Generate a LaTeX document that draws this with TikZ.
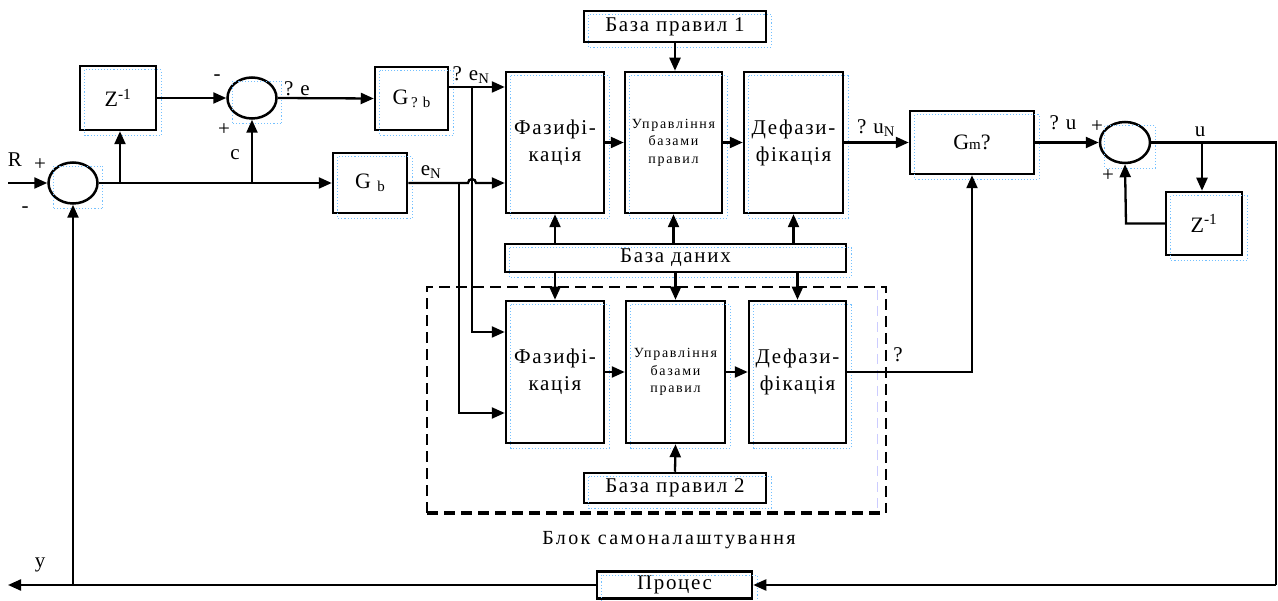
\documentclass[tikz,border=0pt]{standalone}
\usepackage{fontspec}
\setmainfont{Liberation Serif}
\newfontfamily\spc[LetterSpace=8]{Liberation Serif}
\newfontfamily\spcs[LetterSpace=12]{Liberation Serif}
\usetikzlibrary{arrows.meta,shapes.geometric,calc}
\begin{document}
\begin{tikzpicture}[x=1pt,y=-1pt,
  box/.style={draw, line width=2.5pt, inner sep=0pt, align=center,
    font=\fontsize{21}{27}\selectfont\spc},
  smallbox/.style={box, font=\fontsize{14}{17.5}\selectfont\spcs},
  sumn/.style={draw, ellipse, line width=2.5pt, inner sep=0pt,
    minimum width=49pt, minimum height=41pt},
  conn/.style={line width=2.3pt},
  arr/.style={conn, -{Triangle[length=13pt,width=11pt]}},
  lab/.style={font=\fontsize{21}{24}\selectfont, inner sep=0pt},
  shad/.style={draw=blue!45!cyan!55, dotted, line width=1.1pt},
  frame/.style={dash pattern=on 11pt off 6pt, line width=1.5pt}
]
\useasboundingbox (0,0) rectangle (1278,601);

% ---- nodes ----
\node[box, minimum width=76pt, minimum height=64pt, font=\fontsize{22}{24}\selectfont] (z1) at (118,98) {Z\textsuperscript{-1}};
\node[sumn] (sum1) at (73,183) {};
\node[sumn] (sum2) at (252,98) {};
\node[box, minimum width=73pt, minimum height=63pt, font=\fontsize{22}{24}\selectfont] (gqb) at (411.5,98.5) {G\raisebox{-3pt}{\fontsize{15}{15}\selectfont\,? b}};
\node[box, minimum width=74pt, minimum height=60pt, font=\fontsize{22}{24}\selectfont] (gb) at (370,183) {G\raisebox{-3pt}{\fontsize{15}{15}\selectfont\, b}};
\node[box, minimum width=98pt, minimum height=141pt] (fuz1) at (555,142.5) {Фазифі-\\кація};
\node[smallbox, minimum width=97pt, minimum height=141pt] (mid1) at (673.5,142.5) {Управління\\базами\\правил};
\node[box, minimum width=99pt, minimum height=141pt] (def1) at (793.5,142.5) {Дефази-\\фікація};
\node[box, minimum width=182pt, minimum height=31pt] (rb1) at (675,26.5) {База правил 1};
\node[box, minimum width=124pt, minimum height=63pt, font=\fontsize{22}{24}\selectfont] (gm) at (972,142.5) {G{\fontsize{15}{15}\selectfont m}?};
\node[sumn, minimum width=50pt] (sum3) at (1125,142.5) {};
\node[box, minimum width=76pt, minimum height=63pt, font=\fontsize{22}{24}\selectfont] (z2) at (1204,223.5) {Z\textsuperscript{-1}};
\node[box, minimum width=341pt, minimum height=28pt] (db) at (675.5,258) {База даних};
\node[box, minimum width=98pt, minimum height=142pt] (fuz2) at (555,372) {Фазифі-\\кація};
\node[smallbox, minimum width=99pt, minimum height=142pt] (mid2) at (675.5,372) {Управління\\базами\\правил};
\node[box, minimum width=97pt, minimum height=142pt] (def2) at (797.5,372) {Дефази-\\фікація};
\node[box, minimum width=182pt, minimum height=30pt] (rb2) at (675,488) {База правил 2};
\node[box, minimum width=155pt, minimum height=27pt] (proc) at (674.5,585) {Процес};

% ---- dotted shadows ----
\foreach \n in {z1,sum1,sum2,gqb,gb,fuz1,mid1,def1,rb1,gm,sum3,z2,db,fuz2,mid2,def2,rb2,proc}
  \draw[shad] ($(\n.west |- \n.north)+(6,5)$) rectangle ($(\n.east |- \n.south)+(4,4)$);

% ---- self-tuning frame ----
\draw[draw=blue!20, dash pattern=on 10pt off 6pt, line width=0.8pt] (877,290) -- (877,510);
\draw[frame] (427,513) -- (427,287) -- (886,287) -- (886,513);
\draw[frame, line width=3.2pt] (427,513) -- (886,513);
\node[lab, font=\fontsize{20}{22}\selectfont\spcs] (blk) at (669,540) {Блок самоналаштування};

% ---- coordinates ----
\coordinate (rin) at (8,183);
\coordinate (br1) at (120,183);
\coordinate (br2) at (252,183);
\coordinate (eqo) at ([yshift=11.5pt]gqb.east);
\coordinate (j1) at (472,87);
\coordinate (j1b) at (472,332);
\coordinate (j2) at (459,183);
\coordinate (j2b) at (459,413);
\coordinate (redge) at (1276,142.5);
\coordinate (rbot) at (1276,585);
\coordinate (ub) at (1202,142.5);
\coordinate (zl) at (1126,223.5);
\coordinate (yout) at (8,585);

% ---- connectors ----
\draw[arr] (rin) -- (sum1.west);
\draw[arr] (sum1.east) -- (gb.west);
\draw[arr] (br1) -- (br1 |- z1.south);
\draw[arr] (br2) -- (sum2.south);
\draw[arr] (z1.east) -- (sum2.west);
\draw[arr] (sum2.east) -- (gqb.west);
\draw[arr] (eqo) -- (fuz1.west |- eqo);
\draw[arr] (j1) -- (j1b) -- (fuz2.west |- j1b);
\draw[arr] (gb.east) -- (468,183) arc[start angle=180, end angle=0, radius=4pt] -- (fuz1.west |- gb.east);
\draw[arr] (j2) -- (j2b) -- (fuz2.west |- j2b);
\draw[arr] (fuz1.east) -- (mid1.west);
\draw[arr] (mid1.east) -- (def1.west);
\draw[arr] (rb1.south) -- (rb1.south |- mid1.north);
\draw[arr] (def1.east) -- (gm.west);
\draw[arr] (gm.east) -- (sum3.west);
\draw[conn] (sum3.east) -- (redge) -- (rbot);
\draw[arr] (rbot) -- (proc.east);
\draw[arr] (ub) -- (ub |- z2.north);
\draw[arr] (z2.west) -- (zl) -- (sum3.south);
\draw[arr] (fuz1.south |- db.north) -- (fuz1.south);
\draw[arr] (mid1.south |- db.north) -- (mid1.south);
\draw[arr] (def1.south |- db.north) -- (def1.south);
\draw[arr] (fuz2.north |- db.south) -- (fuz2.north);
\draw[arr] (mid2.north |- db.south) -- (mid2.north);
\draw[arr] (def2.north |- db.south) -- (def2.north);
\draw[arr] (fuz2.east) -- (mid2.west);
\draw[arr] (mid2.east) -- (def2.west);
\draw[arr] (rb2.north) -- (mid2.south);
\draw[arr] (def2.east) -- (gm.south |- def2.east) -- (gm.south);
\draw[arr] (proc.west) -- (yout);
\draw[arr] (sum1.south |- proc.west) -- (sum1.south);

% ---- labels ----
\node[lab] (lR) at (15,160) {R};
\node[lab] (lp1) at (40,165) {+};
\node[lab] (lm1) at (25,210) {-};
\node[lab] (lm2) at (217,78) {-};
\node[lab] (lp2) at (224,130) {+};
\node[lab] (lc) at (235,155) {c};
\node[lab] (lqe) at (297,89) {? e};
\node[lab] (lqen) at (471,75) {? e\textsubscript{N}};
\node[lab] (len) at (431,172) {e\textsubscript{N}};
\node[lab] (lqun) at (876,128) {? u\textsubscript{N}};
\node[lab] (lqu) at (1063,123) {? u};
\node[lab] (lp3) at (1097,127) {+};
\node[lab] (lp4) at (1108,176) {+};
\node[lab] (lu) at (1200,132) {u};
\node[lab] (lq) at (898,355) {?};
\node[lab] (ly) at (40,565) {y};
\end{tikzpicture}
\end{document}
